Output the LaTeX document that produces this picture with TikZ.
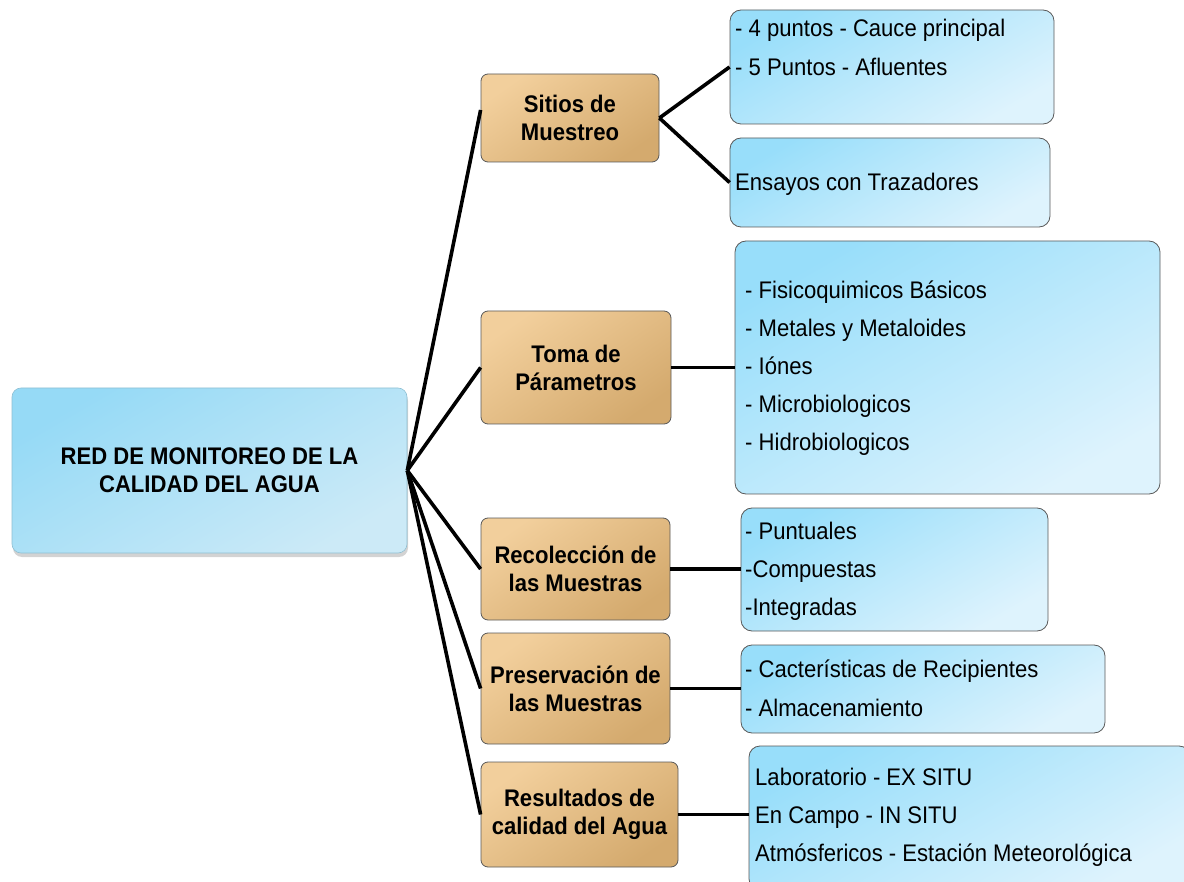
\documentclass[tikz,border=0pt]{standalone}
\usepackage{fontspec}
\setmainfont{Liberation Sans}[FakeStretch=0.92]
\usetikzlibrary{positioning}
\usetikzlibrary{shadows}
\definecolor{rootA}{RGB}{150,218,246}
\definecolor{rootB}{RGB}{204,234,247}
\definecolor{tanA}{RGB}{242,207,156}
\definecolor{tanB}{RGB}{212,170,110}
\definecolor{skyA}{RGB}{152,222,250}
\definecolor{skyB}{RGB}{222,243,253}

\tikzset{
  rootbox/.style={rounded corners=9pt, draw=rootA!70!gray, line width=0.6pt,
    top color=rootA, bottom color=rootB, shading angle=30,
    drop shadow={opacity=0.35, shadow xshift=1pt, shadow yshift=-4pt},
    align=center, font=\fontsize{24}{28}\selectfont\bfseries, inner sep=0pt},
  tanbox/.style={rounded corners=7pt, draw=gray!70!black, line width=0.8pt,
    top color=tanA, bottom color=tanB, shading angle=35,
    align=center, font=\fontsize{24}{28}\selectfont\bfseries, inner sep=0pt},
  skybox/.style={rounded corners=11pt, draw=gray!70!black, line width=0.8pt,
    top color=skyA, bottom color=skyB, shading angle=30, inner sep=0pt},
  item/.style={anchor=base west, inner sep=0pt, font=\fontsize{24}{28}\selectfont},
  conn/.style={line width=3.6pt, black},
}

\begin{document}
\begin{tikzpicture}[x=1pt, y=-1pt]
\useasboundingbox (0,0) rectangle (1184,882);
\clip (0,0) rectangle (1184,882);

%---------------------------------------
% Root
%---------------------------------------
\node[rootbox, minimum width=395pt, minimum height=165pt] (red) at (209.5,470.5)
  {RED DE MONITOREO DE LA\\CALIDAD DEL AGUA};

%---------------------------------------
% Main branches
%---------------------------------------
\node[tanbox, minimum width=178pt, minimum height=88pt]  (sitios) at (570,118)     {Sitios de\\Muestreo};
\node[tanbox, minimum width=190pt, minimum height=113pt] (toma)   at (576,367.5)   {Toma de\\Párametros};
\node[tanbox, minimum width=189pt, minimum height=102pt] (recol)  at (575.5,569)   {Recolección de\\las Muestras};
\node[tanbox, minimum width=189pt, minimum height=111pt] (presv)  at (575.5,688.5) {Preservación de\\las Muestras};
\node[tanbox, minimum width=197pt, minimum height=105pt] (result) at (579.5,814.5) {Resultados de\\calidad del Agua};

%---------------------------------------
% Detail boxes
%---------------------------------------
\node[skybox, minimum width=324pt, minimum height=114pt] (puntos)  at (892,67)      {};
\node[skybox, minimum width=320pt, minimum height=89pt]  (ensayos) at (890,182.5)   {};
\node[skybox, minimum width=425pt, minimum height=253pt] (param)   at (947.5,367.5) {};
\node[skybox, minimum width=307pt, minimum height=123pt] (tipos)   at (894.5,569.5) {};
\node[skybox, minimum width=364pt, minimum height=88pt]  (recip)   at (923,689)     {};
\node[skybox, minimum width=441pt, minimum height=144pt] (lugar)   at (969.5,818)   {};

% Texts (baseline = line centre + 8)
\node[item] (puntosA) at (735,37) {- 4 puntos - Cauce principal};
\node[item] (puntosB) at (735,76) {- 5 Puntos - Afluentes};
\node[item] (ensayosA) at (735,191) {Ensayos con Trazadores};

\foreach \t [count=\i] in {- Fisicoquimicos Básicos, - Metales y Metaloides,
    - Iónes, - Microbiologicos, - Hidrobiologicos}
  \node[item] (param\i) at (745,{261+38*\i}) {\t};

\node[item] (tiposA) at (745,539) {- Puntuales};
\node[item] (tiposB) at (745,577) {-Compuestas};
\node[item] (tiposC) at (745,615) {-Integradas};

\node[item] (recipA) at (745,677) {- Cacterísticas de Recipientes};
\node[item] (recipB) at (745,716) {- Almacenamiento};

\node[item] (lugarA) at (755,785) {Laboratorio - EX SITU};
\node[item] (lugarB) at (755,823) {En Campo - IN SITU};
\node[item] (lugarC) at (755,861) {Atmósfericos - Estación Meteorológica};

%---------------------------------------
% Connectors
%---------------------------------------
\draw[conn] (red.east) -- ([yshift=8pt]sitios.west);
\foreach \b in {toma, recol, presv, result}
  \draw[conn] (red.east) -- (\b.west);

\draw[conn] (sitios.east) -- (puntos.west);
\draw[conn] (sitios.east) -- (ensayos.west);
\draw[conn] (toma.east) -- (toma.east -| param.west);
\draw[conn] (recol.east) -- (recol.east -| tipos.west);
\draw[conn] (presv.east) -- (presv.east -| recip.west);
\draw[conn] (result.east) -- (result.east -| lugar.west);

\end{tikzpicture}
\end{document}
